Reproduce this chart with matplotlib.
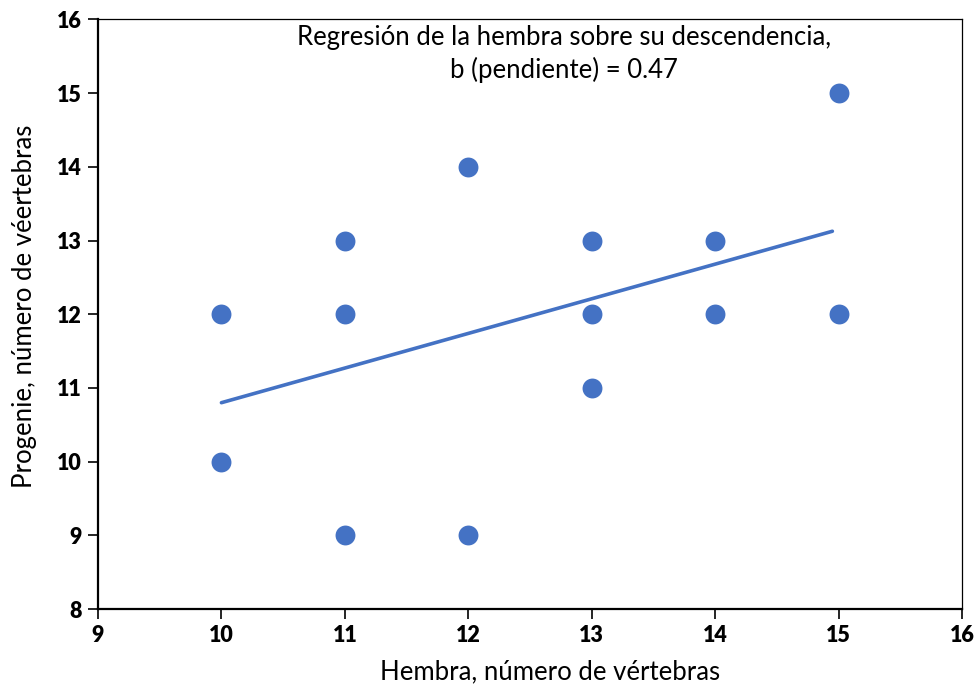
import matplotlib
matplotlib.use("Agg")
import matplotlib.pyplot as plt
import numpy as np

plt.rcParams['font.family'] = ['Lato', 'DejaVu Sans']

hembra = [10, 10, 11, 11, 11, 12, 12, 13, 13, 13, 14, 14, 15, 15]
progenie = [12, 10, 13, 12, 9, 14, 9, 13, 12, 11, 13, 12, 15, 12]
slope = 0.47
intercept = 6.1
line_x = [10, 14.95]
x_ticks = [9, 10, 11, 12, 13, 14, 15, 16]
y_ticks = [8, 9, 10, 11, 12, 13, 14, 15, 16]

color = '#4472C4'

fig = plt.figure(figsize=(9.8, 6.84), dpi=100)
ax = fig.add_axes([0.1, 0.1096, 0.8816, 0.8619])

ax.scatter(hembra, progenie, s=205, color=color, zorder=3, linewidths=0)
lx = np.array(line_x)
ax.plot(lx, slope * lx + intercept, color=color, lw=2.6, solid_capstyle='round', zorder=2)

ax.set_xlim(9, 16)
ax.set_ylim(8, 16)
ax.set_xticks(x_ticks)
ax.set_yticks(y_ticks)
ax.tick_params(direction='out', length=7, width=1.2, labelsize=15.5, pad=4.5)
for lab in ax.get_xticklabels() + ax.get_yticklabels():
    lab.set_fontweight('heavy')

for s in ['left', 'bottom']:
    ax.spines[s].set_linewidth(1.6)
for s in ['top', 'right']:
    ax.spines[s].set_linewidth(0.9)

ax.set_xlabel('Hembra, número de vértebras', fontsize=18.5)
ax.set_ylabel('Progenie, número de véertebras', fontsize=18.5)
ax.xaxis.set_label_coords(0.523, -0.086)
ax.yaxis.set_label_coords(-0.071, 0.514)

ax.text(0.539, 0.970, 'Regresión de la hembra sobre su descendencia,', transform=ax.transAxes,
        ha='center', va='center', fontsize=18.5)
ax.text(0.539, 0.914, 'b (pendiente) = 0.47', transform=ax.transAxes,
        ha='center', va='center', fontsize=18.5)

fig.savefig('out.png', dpi=100)
